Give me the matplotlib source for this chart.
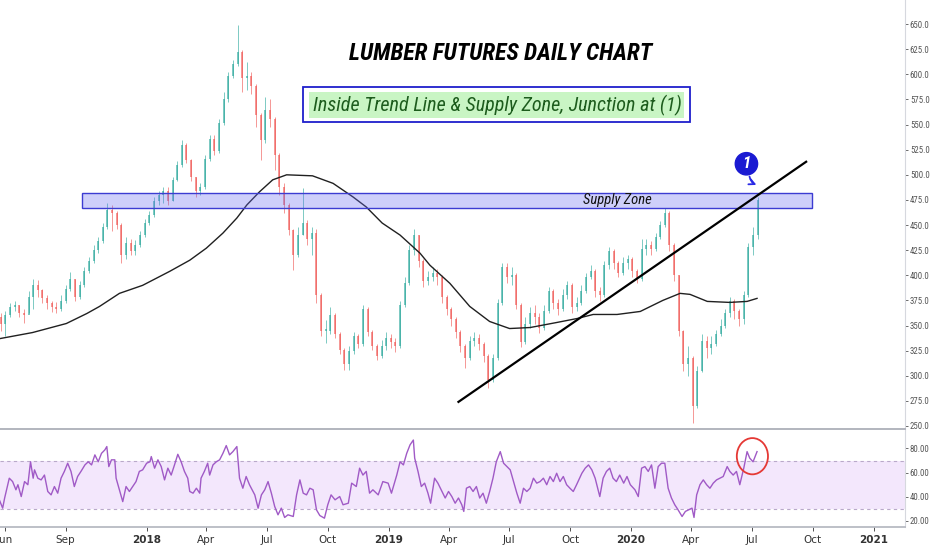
import numpy as np
import pandas as pd
import matplotlib
matplotlib.use("Agg")
import matplotlib.pyplot as plt
import matplotlib.dates as mdates
from matplotlib import font_manager
from matplotlib.patches import Rectangle, Ellipse

# weekly candles (one per week, open = previous close)
week_start = "2017-05-26"
first_open = 358
close = [352, 360, 368, 370, 362, 360, 378, 390, 385, 377,
         372, 368, 366, 374, 386, 396, 378, 390, 404, 414,
         425, 434, 448, 465, 462, 450, 420, 432, 424, 430,
         440, 452, 460, 474, 480, 484, 474, 495, 510, 530,
         515, 498, 484, 488, 516, 536, 524, 552, 575, 598,
         610, 622, 596, 598, 588, 560, 535, 565, 556, 520,
         488, 470, 445, 420, 440, 452, 436, 442, 380, 345,
         345, 360, 342, 326, 312, 325, 340, 332, 366, 344,
         330, 320, 330, 338, 334, 330, 370, 392, 425, 440,
         414, 394, 398, 402, 398, 378, 366, 356, 344, 330,
         318, 335, 338, 332, 320, 296, 318, 372, 408, 398,
         400, 370, 334, 352, 362, 358, 348, 364, 384, 372,
         366, 380, 390, 368, 372, 384, 398, 404, 384, 380,
         410, 424, 412, 402, 412, 416, 404, 396, 426, 430,
         426, 438, 450, 462, 430, 400, 345, 312, 318, 270,
         305, 335, 328, 332, 342, 350, 362, 374, 364, 356,
         380, 428, 440, 475]
high = [362, 364, 372, 374, 370, 366, 384, 396, 395, 386,
        380, 374, 373, 380, 390, 403, 396, 394, 408, 418,
        430, 438, 452, 472, 470, 464, 452, 438, 436, 435,
        444, 456, 464, 478, 484, 488, 488, 498, 514, 535,
        532, 516, 498, 492, 520, 540, 540, 556, 582, 602,
        614, 649, 624, 612, 602, 590, 562, 577, 575, 558,
        522, 492, 472, 446, 448, 487, 455, 448, 446, 382,
        355, 368, 362, 344, 328, 330, 344, 342, 370, 368,
        346, 332, 336, 344, 342, 338, 374, 398, 430, 446,
        440, 416, 404, 408, 406, 400, 380, 368, 358, 346,
        332, 340, 344, 342, 334, 322, 322, 376, 412, 412,
        408, 402, 372, 358, 368, 370, 362, 370, 388, 386,
        376, 386, 394, 392, 378, 390, 402, 410, 406, 388,
        414, 428, 426, 414, 418, 420, 418, 406, 436, 436,
        434, 442, 454, 467, 464, 432, 400, 346, 330, 320,
        310, 342, 340, 340, 346, 356, 366, 378, 376, 366,
        384, 432, 448, 478]
low = [345, 340, 358, 364, 358, 353, 362, 366, 378, 372,
       366, 363, 362, 364, 372, 384, 374, 376, 388, 402,
       412, 422, 432, 446, 444, 446, 412, 416, 420, 420,
       428, 438, 450, 458, 470, 472, 470, 474, 494, 508,
       512, 494, 478, 480, 486, 514, 520, 522, 550, 572,
       596, 608, 582, 584, 580, 548, 515, 532, 548, 505,
       480, 462, 440, 405, 418, 440, 430, 420, 372, 340,
       333, 342, 338, 322, 306, 306, 322, 328, 330, 340,
       326, 316, 318, 326, 328, 324, 328, 368, 390, 420,
       408, 388, 390, 394, 390, 372, 360, 350, 338, 324,
       308, 316, 330, 326, 314, 288, 294, 316, 370, 392,
       390, 366, 329, 332, 348, 352, 343, 346, 362, 366,
       360, 364, 376, 362, 364, 370, 382, 396, 378, 374,
       378, 406, 406, 398, 400, 406, 398, 392, 394, 420,
       420, 424, 436, 448, 424, 394, 340, 305, 300, 253,
       268, 304, 318, 322, 330, 340, 348, 358, 356, 350,
       352, 378, 420, 436]

# 200-day moving average
ma_dates = ["2017-05-25", "2017-07-13", "2017-09-02", "2017-10-03", "2017-10-22",
            "2017-11-21", "2017-12-26", "2018-02-05", "2018-03-07", "2018-04-01",
            "2018-04-26", "2018-05-17", "2018-06-01", "2018-06-20", "2018-07-10",
            "2018-07-31", "2018-09-08", "2018-10-09", "2018-11-08", "2018-11-28",
            "2018-12-22", "2019-01-18", "2019-02-17", "2019-03-04", "2019-04-03",
            "2019-05-03", "2019-06-02", "2019-07-02", "2019-08-02", "2019-09-11",
            "2019-10-12", "2019-11-05", "2019-12-11", "2020-01-15", "2020-02-18",
            "2020-03-15", "2020-03-30", "2020-04-25", "2020-05-29", "2020-06-24",
            "2020-07-09"]
ma_values = [337, 343, 352, 362, 369, 382, 390, 404, 415, 427,
             442, 457, 470, 483, 495, 500, 499, 491.5, 478, 468,
             452, 440, 422, 410, 392, 369, 354, 347, 348, 353,
             357, 361, 361, 364, 375, 382, 381, 374, 373, 374,
             377]

# RSI, days counted from 2018-01-01
rsi_day_offset = [-222, -217, -214, -207, -202, -197, -194, -189, -184, -179,
                  -175, -171, -169, -164, -159, -154, -149, -144, -139, -134,
                  -129, -124, -119, -114, -109, -104, -99, -93, -88, -83,
                  -78, -73, -68, -63, -60, -57, -53, -48, -46, -41,
                  -36, -31, -26, -21, -16, -11, -6, 0, 5, 7,
                  12, 17, 22, 27, 32, 37, 42, 47, 52, 57,
                  62, 65, 70, 75, 80, 82, 87, 92, 95, 100,
                  105, 110, 115, 120, 125, 130, 136, 140, 145, 150,
                  155, 163, 168, 173, 178, 183, 188, 193, 198, 203,
                  208, 213, 221, 226, 231, 236, 241, 246, 251, 256,
                  261, 268, 273, 278, 284, 291, 296, 304, 309, 316,
                  321, 326, 331, 336, 341, 349, 356, 364, 369, 377,
                  382, 387, 392, 397, 402, 404, 409, 414, 419, 424,
                  428, 434, 439, 444, 450, 455, 460, 465, 470, 475,
                  478, 482, 487, 492, 497, 502, 507, 512, 517, 522,
                  527, 533, 538, 543, 548, 553, 558, 563, 568, 573,
                  578, 583, 588, 593, 598, 603, 608, 613, 618, 623,
                  628, 633, 638, 643, 648, 656, 661, 666, 671, 676,
                  683, 688, 693, 698, 703, 708, 713, 719, 724, 729,
                  736, 741, 746, 751, 756, 761, 766, 771, 776, 781,
                  786, 791, 796, 801, 807, 812, 817, 822, 825, 829,
                  834, 839, 844, 849, 854, 859, 864, 869, 875, 879,
                  884, 889, 894, 900, 905, 909, 914, 920]
rsi_values = [37.5, 30.6, 39, 55.4, 52.6, 45.8, 50, 40.2, 52.6, 50,
              69, 55.4, 62.3, 55.4, 54, 58, 44.4, 41.6, 48.5, 43,
              55.4, 61, 67.8, 61, 48.5, 56.8, 61, 66.4, 69, 66.4,
              74.7, 69, 76, 78.8, 81.6, 65, 70.6, 70.6, 55.4, 45.8,
              36, 48.5, 44.4, 48.5, 52.6, 61, 62.3, 67.8, 69, 73.3,
              63.7, 70.6, 65, 54, 63.7, 58, 66.4, 75.2, 69, 61,
              55.4, 44.4, 43, 47.1, 43, 55.4, 61, 67.8, 58, 66.4,
              69, 70.6, 76, 82.4, 74.7, 77.4, 81.6, 55.4, 47.1, 56.8,
              50, 41.6, 30.6, 41.6, 45.8, 52.6, 43, 32, 25.1, 30.6,
              22.9, 25.1, 23.7, 41.6, 54, 43, 41.6, 47.1, 45.8, 29.2,
              24.5, 22.3, 33.4, 41.6, 37.5, 40.2, 33.4, 34.7, 51.3, 48.5,
              63.7, 58, 61, 43, 45.8, 41.6, 52.6, 51.3, 43, 58,
              69, 66.4, 76, 83, 87, 72, 61, 48.5, 51.3, 43,
              34.7, 55.4, 51.3, 45.8, 39, 44.4, 40.2, 34.7, 39, 33.4,
              27.9, 47.1, 48.5, 44.4, 48.5, 39, 43, 34.7, 44.4, 55.4,
              69, 77.4, 67.8, 65, 62.3, 52.6, 43, 34.7, 47.1, 44.4,
              47.1, 55.4, 51.3, 52.6, 55.4, 50, 56.8, 52.6, 59.5, 52.6,
              56.8, 50, 47.1, 44.4, 50, 59.5, 63.7, 66.4, 62.3, 55.4,
              40.2, 55.4, 61, 63.7, 55.4, 52.6, 58, 51.3, 56.8, 50,
              45.8, 40.2, 63.7, 65, 61, 66.4, 47.1, 65, 67.8, 67.8,
              47.1, 39, 33.4, 29.2, 23.7, 27.9, 29.2, 30.6, 22.9, 41.6,
              50, 54, 50, 47.1, 51.3, 54, 55.4, 56.8, 65, 61,
              58, 61, 50, 63.7, 77.4, 72, 69, 77.4]

# drawings on the chart
trend_dates = ["2019-04-16", "2020-09-21"]
trend_prices = [274, 513]
zone_dates = ["2017-09-25", "2020-09-30"]
zone_prices = [467, 482]

tick_dates = ["2017-06-01", "2017-09-01", "2018-01-01", "2018-04-01", "2018-07-01",
              "2018-10-01", "2019-01-01", "2019-04-01", "2019-07-01", "2019-10-01",
              "2020-01-01", "2020-04-01", "2020-07-01", "2020-10-01", "2021-01-01"]
tick_labels = ["Jun", "Sep", "2018", "Apr", "Jul", "Oct", "2019", "Apr", "Jul",
               "Oct", "2020", "Apr", "Jul", "Oct", "2021"]

# pick a narrow font for the hand-drawn style annotations
names = {f.name for f in font_manager.fontManager.ttflist}
narrow = None
for cand in ["Liberation Sans Narrow", "Roboto Condensed", "Open Sans Condensed"]:
    if cand in names:
        narrow = cand
        break
if narrow is None:
    narrow = "DejaVu Sans"
    fscale = 0.72
else:
    fscale = 1.0
fam = [narrow, "DejaVu Sans"]

UP = "#26a69a"
DOWN = "#ef5350"
GRID = "#b2b5be"

fig = plt.figure(figsize=(9.32, 5.5), dpi=100)
ax = fig.add_axes([0, 121 / 550, 905 / 932, 429 / 550])
rx = fig.add_axes([0, 23 / 550, 905 / 932, 97 / 550], sharex=ax)

# candles
dates = pd.date_range(week_start, periods=len(close), freq="7D")
xd = mdates.date2num(dates)
c = np.array(close, dtype=float)
o = np.concatenate([[first_open], c[:-1]])
h = np.array(high, dtype=float)
l = np.array(low, dtype=float)
cols = np.where(c >= o, UP, DOWN)
ax.vlines(xd, l, h, colors=cols, lw=0.7, alpha=0.6, zorder=2)
body = np.maximum(np.abs(c - o), 1.2)
ax.bar(xd, body, bottom=np.minimum(o, c), width=3.0, color=cols,
       alpha=0.6, lw=0, zorder=2)

# moving average
ax.plot(mdates.date2num(pd.to_datetime(ma_dates)), ma_values,
        color="#202020", lw=1.0, zorder=3)

# supply zone
zx = mdates.date2num(pd.to_datetime(zone_dates))
ax.add_patch(Rectangle((zx[0], zone_prices[0]), zx[1] - zx[0],
                       zone_prices[1] - zone_prices[0],
                       facecolor=(0.42, 0.43, 0.95, 0.33),
                       edgecolor="#3c3cd2", lw=1.0, zorder=4))
ax.text(mdates.date2num(pd.Timestamp("2019-12-12")), 474.5, "Supply Zone",
        family=fam, style="italic", fontsize=10.5 * fscale, color="#111111",
        ha="center", va="center", zorder=6)

# trend line
ax.plot(mdates.date2num(pd.to_datetime(trend_dates)), trend_prices,
        color="black", lw=1.6, zorder=5)

# junction marker (1)
ax.text(mdates.date2num(pd.Timestamp("2020-06-23")), 511, "1",
        family=fam, weight="bold", style="italic", fontsize=12 * fscale,
        color="white", ha="center", va="center", zorder=7,
        bbox=dict(boxstyle="circle,pad=0.22", fc="#1a1ad2", ec="#1a1ad2"))
ax.annotate("", xy=(mdates.date2num(pd.Timestamp("2020-07-12")), 489),
            xytext=(mdates.date2num(pd.Timestamp("2020-06-27")), 501),
            arrowprops=dict(arrowstyle="->", color="#2a2ae6", lw=1.3,
                            connectionstyle="arc3,rad=0.35"), zorder=7)

# title and subtitle
ax.text(0.5536, 0.876, "LUMBER FUTURES DAILY CHART", transform=ax.transAxes,
        family=fam, weight="bold", style="italic", fontsize=17 * fscale,
        color="black", ha="center", va="center", zorder=8)
ax.add_patch(Rectangle((303 / 905, 1 - 122 / 429), 387 / 905, 35 / 429,
                       transform=ax.transAxes, facecolor="white",
                       edgecolor="#1f1fcc", lw=1.3, zorder=8))
ax.add_patch(Rectangle((309 / 905, 1 - 118 / 429), 375 / 905, 26 / 429,
                       transform=ax.transAxes, facecolor="#c9f5c4",
                       edgecolor="none", zorder=8))
ax.text(497.5 / 905, 1 - 105 / 429, "Inside Trend Line & Supply Zone, Junction at (1)",
        transform=ax.transAxes, family=fam, style="italic",
        fontsize=14.5 * fscale, color="#1d5c1d", ha="center", va="center", zorder=9)

# price axis
ax.set_ylim(247, 674)
ax.set_xlim(mdates.date2num(pd.Timestamp("2017-05-25")),
            mdates.date2num(pd.Timestamp("2021-02-17")))
ax.yaxis.tick_right()
ax.set_yticks(np.arange(250, 651, 25))
ax.yaxis.set_major_formatter(matplotlib.ticker.FormatStrFormatter("%.1f"))
ax.tick_params(axis="y", labelsize=6.3 * fscale, colors="#555555", length=2.5,
               width=0.6, pad=1)
for lab in ax.get_yticklabels():
    lab.set_family(fam)
ax.tick_params(axis="x", length=0, labelbottom=False)
for s in ["top", "left"]:
    ax.spines[s].set_visible(False)
ax.spines["right"].set_color("#d6d8de")
ax.spines["bottom"].set_color(GRID)
ax.spines["bottom"].set_linewidth(1.4)

# RSI panel
rd = mdates.date2num(pd.Timestamp("2018-01-01") + pd.to_timedelta(rsi_day_offset, unit="D"))
rx.axhspan(30, 70, color="#f3e7fc", lw=0, zorder=1)
rx.axhline(70, color="#b9a9c9", lw=0.8, ls=(0, (3, 3)), zorder=2)
rx.axhline(30, color="#b9a9c9", lw=0.8, ls=(0, (3, 3)), zorder=2)
rx.plot(rd, rsi_values, color="#a05ac6", lw=1.0, zorder=3)
rx.add_patch(Ellipse((mdates.date2num(pd.Timestamp("2020-07-02")), 73.6), 47, 30,
                     facecolor="none", edgecolor="#e53935", lw=1.3, zorder=4))
rx.set_ylim(15, 95.3)
rx.yaxis.tick_right()
rx.set_yticks([20, 40, 60, 80])
rx.yaxis.set_major_formatter(matplotlib.ticker.FormatStrFormatter("%.2f"))
rx.tick_params(axis="y", labelsize=6.3 * fscale, colors="#555555", length=2.5,
               width=0.6, pad=1)
for lab in rx.get_yticklabels():
    lab.set_family(fam)
for s in ["top", "left"]:
    rx.spines[s].set_visible(False)
rx.spines["right"].set_color("#d6d8de")
rx.spines["bottom"].set_color(GRID)
rx.spines["bottom"].set_linewidth(1.2)

rx.set_xticks(mdates.date2num(pd.to_datetime(tick_dates)))
rx.set_xticklabels(tick_labels)
rx.tick_params(axis="x", labelsize=7.5, colors="#333333", length=3, width=0.6, pad=3)
for lab in rx.get_xticklabels():
    if lab.get_text().isdigit():
        lab.set_fontweight("bold")

fig.savefig("out.png", dpi=100, facecolor="white")
